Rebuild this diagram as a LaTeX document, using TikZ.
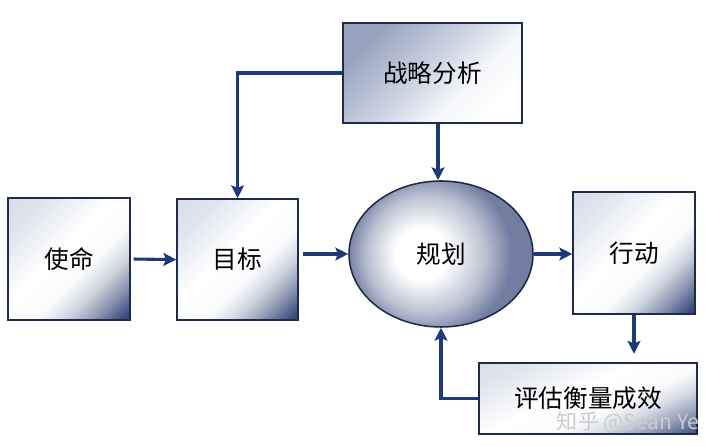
\documentclass[tikz,border=0pt]{standalone}
\usepackage{xcolor}
\usepackage{fontspec}
\usetikzlibrary{arrows.meta,shapes.geometric}
\newfontfamily\cjk{Noto Sans CJK SC}
\definecolor{navy}{HTML}{1F3A78}
\definecolor{edge}{HTML}{1E2B4A}
\definecolor{deep}{HTML}{3A4C7C}
\definecolor{pale}{HTML}{CDD4E3}
\definecolor{mist}{HTML}{97A3BC}
\pgfdeclareverticalshading{boxfade}{100bp}{color(0bp)=(deep); color(17bp)=(deep); color(26bp)=(deep!55!white);
  color(34bp)=(deep!22!white); color(42bp)=(white!90!pale); color(55bp)=(white); color(75bp)=(pale!65!white);
  color(100bp)=(pale)}
\pgfdeclareverticalshading{topfade}{100bp}{color(0bp)=(white); color(25bp)=(white); color(38bp)=(white!80!pale);
  color(52bp)=(pale); color(75bp)=(mist); color(100bp)=(mist)}
\pgfdeclareradialshading{ballfade}{\pgfpoint{-5bp}{5bp}}{color(0bp)=(white); color(8bp)=(white);
  color(18bp)=(deep!35!white); color(25bp)=(deep!72!white); color(50bp)=(deep!72!white)}

\begin{document}
\begin{tikzpicture}[thick,
    box/.style={draw=edge, line width=1.1pt, inner sep=0pt, font=\cjk\fontsize{17.5}{20}\selectfont,
      shading=boxfade, shading angle=45},
    link/.style={draw=navy, line width=2.2pt, -{Stealth[length=3.2mm,width=3.2mm,inset=0.6mm]}}]
          \useasboundingbox (0,0) rectangle (18,11.15);

          \node[box, minimum width=3.05cm, minimum height=3.05cm] (shiming) at (1.725,4.675) {使命};
          \node[box, minimum width=3.03cm, minimum height=3.03cm] (mubiao) at (5.94,4.66) {目标};
          \node[box, minimum width=4.475cm, minimum height=2.5cm, shading=topfade] (zhanlue) at (10.81,9.325) {战略分析};
          \node[box, ellipse, shading=ballfade, minimum width=4.6cm, minimum height=3.65cm] (guihua) at (11.025,4.8) {规划};
          \node[box, minimum width=3.05cm, minimum height=3.05cm] (xingdong) at (15.85,4.825) {行动};
          \node[box, minimum width=5.45cm, minimum height=1.775cm, shading angle=25] (pinggu) at (14.7,1.1875) {评估衡量成效};

          \draw[link, shorten <=2pt] (shiming.east) -- (mubiao.west);
          \draw[link, shorten <=3pt] (mubiao.east |- guihua.west) -- (guihua.west);
          \draw[link] (guihua.east) -- (guihua.east -| xingdong.west);
          \draw[link] (zhanlue.west) -| (mubiao.north);
          \draw[link] ([xshift=4pt]zhanlue.south) -- ([xshift=4pt]zhanlue.south |- guihua.north);
          \draw[link, shorten >=6pt] (xingdong.south) -- (xingdong.south |- pinggu.north);
          \draw[link] (pinggu.west) -| (guihua.south);

          \node[text=gray!40, font=\cjk\fontsize{15}{17}\selectfont] (mark) at (15.7,0.6) {知乎 @Sean Ye};

\end{tikzpicture}
\end{document}
